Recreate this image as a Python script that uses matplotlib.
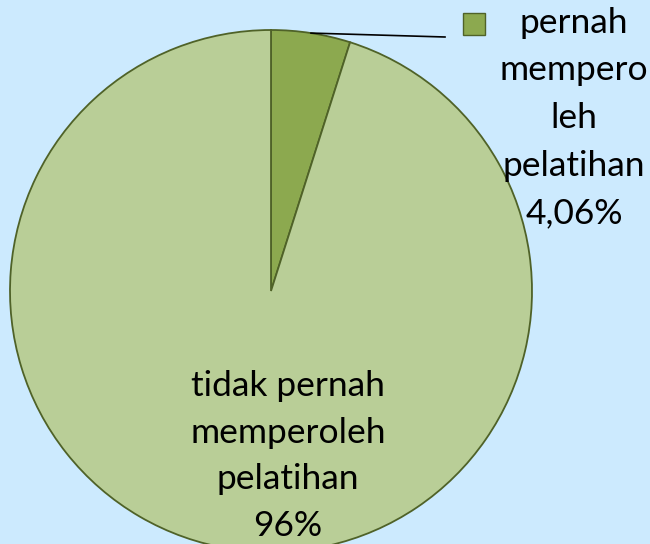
import numpy as np
import matplotlib

matplotlib.use("Agg")
import matplotlib.pyplot as plt
from matplotlib.patches import Rectangle

# slice shares as drawn in the picture, and their printed labels
categories = ["pernah memperoleh pelatihan", "tidak pernah memperoleh pelatihan"]
shares = [4.9, 95.1]
label_texts = ["pernah\nmempero\nleh\npelatihan\n4,06%", "tidak pernah\nmemperoleh\npelatihan\n96%"]

W, H = 650, 544
BG = "#CCEAFE"
SLICE_COLORS = ["#8CA94F", "#B9CE97"]
EDGE = "#4F6228"

plt.rcParams["font.family"] = ["Lato", "DejaVu Sans"]

fig = plt.figure(figsize=(W / 100, H / 100), dpi=100)
fig.patch.set_facecolor(BG)

# pie occupies x 10..532, y 30..552 (pixels from top)
ax = fig.add_axes([10 / W, (H - 552) / H, 522 / W, 522 / H])
ax.set_facecolor(BG)
wedges, _ = ax.pie(
    shares,
    colors=SLICE_COLORS,
    startangle=90,
    counterclock=False,
    radius=1.0,
    wedgeprops={"edgecolor": EDGE, "linewidth": 1.3},
)
ax.set_xlim(-1, 1)
ax.set_ylim(-1, 1)
ax.set_aspect("equal")
ax.axis("off")


def px(x, y):
    return x / W, 1 - y / H


# leader line from middle of small slice arc to its label
small = wedges[0]
mid = np.deg2rad((small.theta1 + small.theta2) / 2)
start_disp = ax.transData.transform((np.cos(mid), np.sin(mid)))
start_fig = fig.transFigure.inverted().transform(start_disp)
end_fig = px(445, 37)
fig.add_artist(plt.Line2D([start_fig[0], end_fig[0]], [start_fig[1], end_fig[1]],
                          color="black", linewidth=1.2, transform=fig.transFigure))

# legend key square
kx, ky = px(463, 35)
fig.add_artist(Rectangle((kx, ky), 22 / W, 22 / H, transform=fig.transFigure,
                         facecolor=SLICE_COLORS[0], edgecolor=EDGE, linewidth=1.0))

tx, ty = px(574, 118)
fig.text(tx, ty, label_texts[0], ha="center", va="center", fontsize=25.5,
         linespacing=1.6, color="black")

bx, by = px(288, 456)
fig.text(bx, by, label_texts[1], ha="center", va="center", fontsize=25.5,
         linespacing=1.56, color="black")

fig.savefig("out.png", dpi=100, facecolor=BG)
